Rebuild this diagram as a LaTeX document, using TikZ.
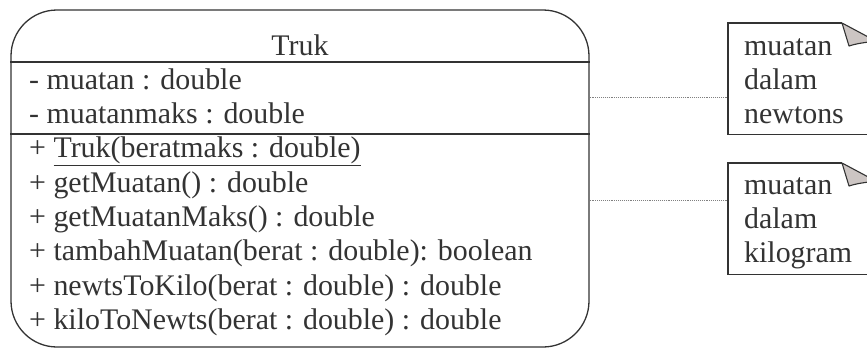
\documentclass[tikz,border=0pt]{standalone}
\usepackage{fontspec}
\setmainfont{Liberation Serif}
\usetikzlibrary{positioning,calc}
\definecolor{umlink}{HTML}{333333}
\definecolor{foldgray}{HTML}{CCC5C3}
\tikzset{
  classbox/.style={draw=umlink, line width=1.3pt, rounded corners=46pt,
    minimum width=578pt, minimum height=337pt, inner sep=0pt},
  member/.style={anchor=base west, inner sep=0pt, text=umlink,
    font=\fontsize{29.9}{34.3}\selectfont},
  notebox/.style={anchor=north west, minimum width=150pt, minimum height=111pt, inner sep=0pt},
  noteedge/.style={draw=umlink, line width=1.3pt},
  fold/.style={fill=foldgray, draw=umlink, line width=1.1pt, line join=round},
  noteline/.style={draw=gray, line width=0.8pt, dash pattern=on 0.8pt off 1.1pt},
}

\begin{document}
\begin{tikzpicture}[x=1pt,y=1pt]
\useasboundingbox (0,0) rectangle (867,-349);
\clip (0,0) rectangle (867,-349);

%% class Truk
\node[classbox] (truk) at (300,-178.5) {};
\node[member, anchor=base] (title) at (300,-55) {Truk};
\draw[noteedge] (truk.west |- 0,-62) -- (truk.east |- 0,-62);
\draw[noteedge] (truk.west |- 0,-134) -- (truk.east |- 0,-134);
\foreach \t [count=\i] in {- muatan : double, - muatanmaks : double,
    {+ \underline{Truk(beratmaks : double)}}, + getMuatan() : double,
    + getMuatanMaks() : double, + tambahMuatan(berat : double): boolean,
    + newtsToKilo(berat : double) : double, + kiloToNewts(berat : double) : double}{
  \node[member] (row\i) at (29,-55-34.3*\i) {\t};
}

%% notes
\node[notebox] (note1) at (728,-23) {};
\node[notebox] (note2) at (728,-163) {};
\foreach \t [count=\i from 0] in {muatan,dalam,newtons}
  \node[member] (na\i) at (744,-55-34.3*\i) {\t};
\foreach \t [count=\i from 0] in {muatan,dalam,kilogram}
  \node[member] (nb\i) at (744,-194-34.3*\i) {\t};
\foreach \n in {note1,note2}{
  \coordinate (\n f) at ($(\n.north west)+(114,0)$);
  \draw[noteedge] (\n f) -- (\n.north west) -- (\n.south west) -- (\n.south east);
  \filldraw[fold] (\n f) -- ++(30,-16) -- ++(-3,-3)
    .. controls ++(-8,-1) and ++(6,2) .. ($(\n f)+(7,-23)$) -- cycle;
}

%% links
\draw[noteline] (truk.east |- 0,-97) -- (note1.west |- 0,-97);
\draw[noteline] (truk.east |- 0,-200) -- (note2.west |- 0,-200);
\end{tikzpicture}
\end{document}
